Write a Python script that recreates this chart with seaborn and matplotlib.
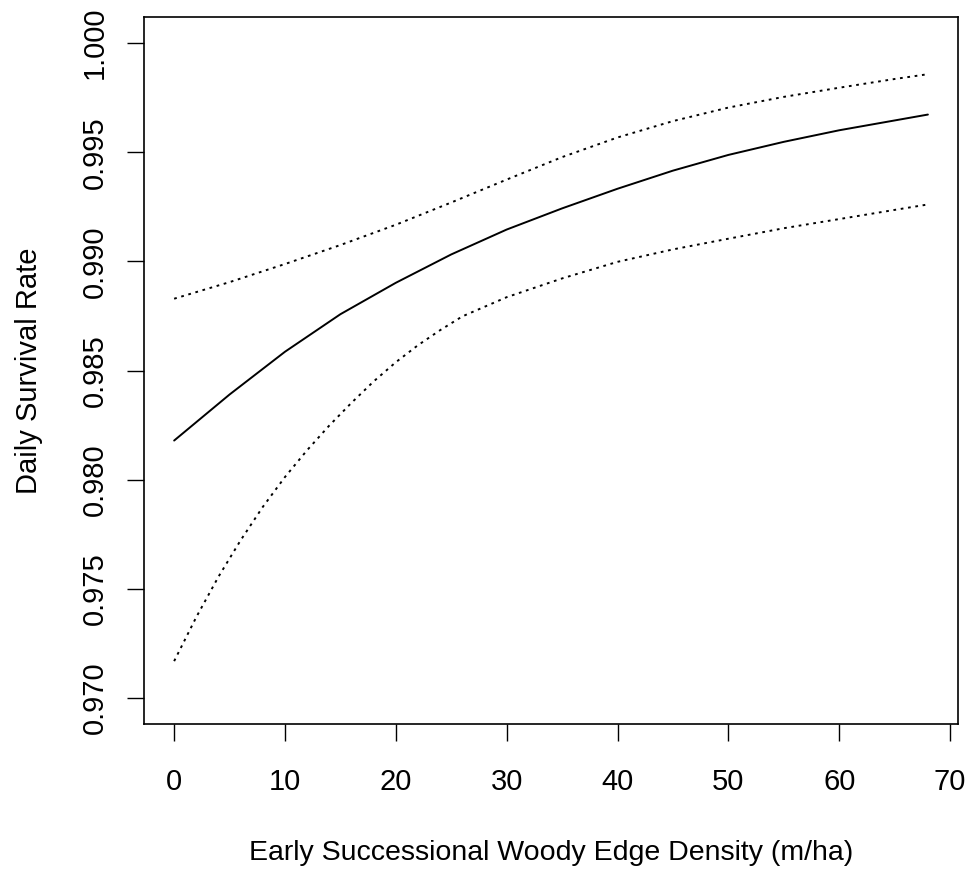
import matplotlib
matplotlib.use("Agg")
import matplotlib.pyplot as plt
import seaborn as sns
import pandas as pd

# Fitted daily survival rate with 95% confidence limits
edge_x = [0, 5, 10, 15, 20, 25, 30, 35, 40, 45, 50, 55, 60, 65, 68]
dsr_fit = [0.98179, 0.98390, 0.98586, 0.98758, 0.98902, 0.99032, 0.99146,
           0.99243, 0.99333, 0.99416, 0.99488, 0.99548, 0.99601, 0.99646, 0.99673]
dsr_upper = [0.98829, 0.98905, 0.98988, 0.99075, 0.99168, 0.99270, 0.99375,
             0.99478, 0.99568, 0.99643, 0.99705, 0.99754, 0.99796, 0.99836, 0.99858]

lower_x = [0, 2, 4, 6, 8, 10, 12, 14, 16, 18, 20, 22, 24, 26, 30, 35, 40,
           45, 50, 55, 60, 65, 68]
dsr_lower = [0.97168, 0.97370, 0.97555, 0.97722, 0.97875, 0.98012, 0.98135,
             0.98248, 0.98352, 0.98450, 0.98538, 0.98616, 0.98685, 0.98748,
             0.98836, 0.98922, 0.98998, 0.99055, 0.99104, 0.99152, 0.99194,
             0.99236, 0.99261]

x_ticks = [0, 10, 20, 30, 40, 50, 60, 70]
y_ticks = [0.970, 0.975, 0.980, 0.985, 0.990, 0.995, 1.000]
y_tick_labels = ["0.970", "0.975", "0.980", "0.985", "0.990", "0.995", "1.000"]

sns.set_style("white")
plt.rcParams["font.family"] = ["Liberation Sans", "DejaVu Sans"]

fit_df = pd.DataFrame({"edge": edge_x, "fit": dsr_fit, "upper": dsr_upper})
low_df = pd.DataFrame({"edge": lower_x, "lower": dsr_lower})

fig = plt.figure(figsize=(9.69, 8.73), dpi=100)
ax = fig.add_axes([0.1486, 0.1707, 0.8401, 0.8098])

dots = (0, (1.4, 2.4))
sns.lineplot(data=fit_df, x="edge", y="fit", ax=ax, color="black", lw=1.4)
sns.lineplot(data=fit_df, x="edge", y="upper", ax=ax, color="black", lw=1.4,
             linestyle=dots)
sns.lineplot(data=low_df, x="edge", y="lower", ax=ax, color="black", lw=1.4,
             linestyle=dots)

ax.set_xlim(-2.72, 70.72)
ax.set_ylim(0.9688, 1.0012)
ax.set_xticks(x_ticks)
ax.set_xticklabels([str(t) for t in x_ticks])
ax.set_yticks(y_ticks)
ax.set_yticklabels(y_tick_labels, rotation=90, va="center")

for sp in ax.spines.values():
    sp.set_visible(True)
    sp.set_color("black")
    sp.set_linewidth(1.2)

ax.tick_params(axis="both", which="major", direction="out", length=12.5,
               width=1.0, color="black", labelsize=21, labelcolor="black",
               left=True, bottom=True)
ax.tick_params(axis="x", pad=19)
ax.tick_params(axis="y", pad=13)

ax.set_xlabel("Early Successional Woody Edge Density (m/ha)", fontsize=20.5,
              labelpad=32, color="black")
ax.set_ylabel("Daily Survival Rate", fontsize=21, labelpad=27, color="black")

fig.savefig("out.png", dpi=100, facecolor="white")
